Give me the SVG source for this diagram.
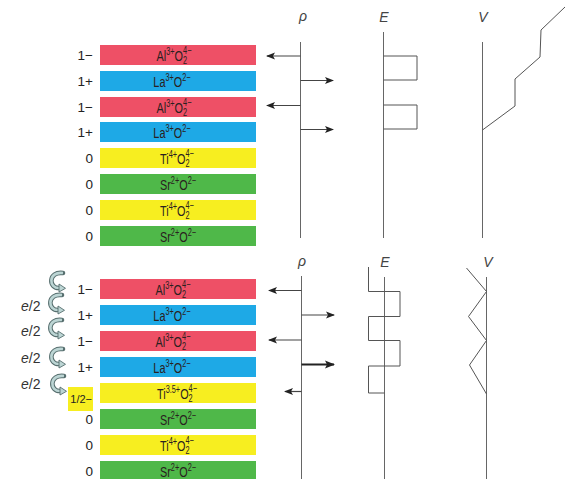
<svg xmlns="http://www.w3.org/2000/svg" xmlns:xlink="http://www.w3.org/1999/xlink" width="572" height="479" viewBox="0 0 572 479">
  <style>
    .red { fill: #ee5066; }
    .blue { fill: #1ea9e6; }
    .yel { fill: #f7ee20; }
    .grn { fill: #4fb849; }
    .lt { font-family: "Liberation Sans", Arial, sans-serif; font-size: 15.5px; fill: #2a2020; }
    .lt .s { font-size: 10.5px; }
    .q { font-family: "Liberation Sans", Arial, sans-serif; font-size: 13.5px; fill: #222; text-anchor: end; }
    .ax { font-family: "Liberation Sans", Arial, sans-serif; font-style: italic; font-size: 14px; fill: #444; text-anchor: middle; }
    .e2 { font-family: "Liberation Sans", Arial, sans-serif; font-size: 14px; fill: #333; }
    .axis { stroke: #666; stroke-width: 1; fill: none; }
    .plot { stroke: #555; stroke-width: 1; fill: none; }
    .arr { stroke: #444; stroke-width: 1.2; fill: none; marker-end: url(#head); }
    .arrb { stroke: #222; stroke-width: 2.2; fill: none; marker-end: url(#headb); }
  </style>
  <defs>
    <marker id="head" markerWidth="9" markerHeight="8" refX="8" refY="4" orient="auto" markerUnits="userSpaceOnUse">
      <path d="M0,0.5 L9,4 L0,7.5 L2,4 Z" fill="#222"/>
    </marker>
    <marker id="headb" markerWidth="10" markerHeight="9" refX="9" refY="4.5" orient="auto" markerUnits="userSpaceOnUse">
      <path d="M0,0.5 L10,4.5 L0,8.5 L2,4.5 Z" fill="#222"/>
    </marker>
    <!-- curved electron-transfer arrow, centred on (0,0) -->
    <g id="carrow">
      <path d="M6,-8 C-9,-10 -9,8 3,7" fill="none" stroke="#566e6e" stroke-width="4.6" stroke-linecap="round"/>
      <path d="M6,-8 C-9,-10 -9,8 3,7" fill="none" stroke="#bcd5d4" stroke-width="2.6"/>
      <path d="M2,3 L8.5,7.3 L2,11 Z" fill="#bcd5d4" stroke="#566e6e" stroke-width="0.9" stroke-linejoin="round"/>
    </g>
  </defs>

  <!-- ===== Upper stack: abrupt LaAlO3 / SrTiO3 interface ===== -->
  <g id="top-l1">
    <rect class="red" x="100" y="45" width="156" height="20"/>
    <text class="q" x="93" y="60">1−</text>
    <g transform="translate(174,60.5) scale(0.7,1)"><text class="lt" text-anchor="middle">Al<tspan class="s" dy="-5.5">3+</tspan><tspan dy="5.5">O</tspan><tspan class="s" dy="3">2</tspan><tspan class="s" dx="-5.8" dy="-9.5">4−</tspan></text></g>
  </g>
  <g id="top-l2">
    <rect class="blue" x="100" y="71" width="156" height="20"/>
    <text class="q" x="93" y="86">1+</text>
    <g transform="translate(172,86.5) scale(0.7,1)"><text class="lt" text-anchor="middle">La<tspan class="s" dy="-5.5">3+</tspan><tspan dy="5.5">O</tspan><tspan class="s" dy="-5.5">2−</tspan></text></g>
  </g>
  <g id="top-l3">
    <rect class="red" x="100" y="97" width="156" height="20"/>
    <text class="q" x="93" y="112">1−</text>
    <g transform="translate(174,112.5) scale(0.7,1)"><text class="lt" text-anchor="middle">Al<tspan class="s" dy="-5.5">3+</tspan><tspan dy="5.5">O</tspan><tspan class="s" dy="3">2</tspan><tspan class="s" dx="-5.8" dy="-9.5">4−</tspan></text></g>
  </g>
  <g id="top-l4">
    <rect class="blue" x="100" y="122" width="156" height="20"/>
    <text class="q" x="93" y="137">1+</text>
    <g transform="translate(172,137.5) scale(0.7,1)"><text class="lt" text-anchor="middle">La<tspan class="s" dy="-5.5">3+</tspan><tspan dy="5.5">O</tspan><tspan class="s" dy="-5.5">2−</tspan></text></g>
  </g>
  <g id="top-l5">
    <rect class="yel" x="100" y="148" width="156" height="20"/>
    <text class="q" x="93" y="163">0</text>
    <g transform="translate(177,163.5) scale(0.7,1)"><text class="lt" text-anchor="middle">Ti<tspan class="s" dy="-5.5">4+</tspan><tspan dy="5.5">O</tspan><tspan class="s" dy="3">2</tspan><tspan class="s" dx="-5.8" dy="-9.5">4−</tspan></text></g>
  </g>
  <g id="top-l6">
    <rect class="grn" x="100" y="174" width="156" height="20"/>
    <text class="q" x="93" y="189">0</text>
    <g transform="translate(178,189.5) scale(0.7,1)"><text class="lt" text-anchor="middle">Sr<tspan class="s" dy="-5.5">2+</tspan><tspan dy="5.5">O</tspan><tspan class="s" dy="-5.5">2−</tspan></text></g>
  </g>
  <g id="top-l7">
    <rect class="yel" x="100" y="200" width="156" height="20"/>
    <text class="q" x="93" y="215">0</text>
    <g transform="translate(177,215.5) scale(0.7,1)"><text class="lt" text-anchor="middle">Ti<tspan class="s" dy="-5.5">4+</tspan><tspan dy="5.5">O</tspan><tspan class="s" dy="3">2</tspan><tspan class="s" dx="-5.8" dy="-9.5">4−</tspan></text></g>
  </g>
  <g id="top-l8">
    <rect class="grn" x="100" y="226" width="156" height="20"/>
    <text class="q" x="93" y="241">0</text>
    <g transform="translate(178,241.5) scale(0.7,1)"><text class="lt" text-anchor="middle">Sr<tspan class="s" dy="-5.5">2+</tspan><tspan dy="5.5">O</tspan><tspan class="s" dy="-5.5">2−</tspan></text></g>
  </g>

  <!-- upper profiles: rho, E, V -->
  <g id="top-plots">
    <text class="ax" x="303" y="21">ρ</text>
    <line class="axis" x1="300.5" y1="42" x2="300.5" y2="238"/>
    <text class="ax" x="384" y="22">E</text>
    <line class="axis" x1="383.5" y1="32" x2="383.5" y2="238"/>
    <path class="plot" d="M383.5,56 H417 V80 H383.5 M383.5,105 H417 V129 H383.5"/>
    <text class="ax" x="483" y="22">V</text>
    <line class="axis" x1="482.5" y1="42" x2="482.5" y2="238"/>
    <path class="plot" d="M482.5,130 L515,106 L515,79 L540,57 L541,30 L565,7"/>
  </g>

  <!-- ===== Lower stack: reconstructed interface with e/2 transfer ===== -->
  <g id="bot-l1">
    <rect class="red" x="100" y="279" width="156" height="20"/>
    <text class="q" x="93" y="294">1−</text>
    <g transform="translate(173,294.5) scale(0.7,1)"><text class="lt" text-anchor="middle">Al<tspan class="s" dy="-5.5">3+</tspan><tspan dy="5.5">O</tspan><tspan class="s" dy="3">2</tspan><tspan class="s" dx="-5.8" dy="-9.5">4−</tspan></text></g>
  </g>
  <g id="bot-l2">
    <rect class="blue" x="100" y="305" width="156" height="20"/>
    <text class="q" x="93" y="320">1+</text>
    <g transform="translate(172,320.5) scale(0.7,1)"><text class="lt" text-anchor="middle">La<tspan class="s" dy="-5.5">3+</tspan><tspan dy="5.5">O</tspan><tspan class="s" dy="-5.5">2−</tspan></text></g>
  </g>
  <g id="bot-l3">
    <rect class="red" x="100" y="331" width="156" height="20"/>
    <text class="q" x="93" y="346">1−</text>
    <g transform="translate(173,346.5) scale(0.7,1)"><text class="lt" text-anchor="middle">Al<tspan class="s" dy="-5.5">3+</tspan><tspan dy="5.5">O</tspan><tspan class="s" dy="3">2</tspan><tspan class="s" dx="-5.8" dy="-9.5">4−</tspan></text></g>
  </g>
  <g id="bot-l4">
    <rect class="blue" x="100" y="357" width="156" height="20"/>
    <text class="q" x="93" y="372">1+</text>
    <g transform="translate(172,372.5) scale(0.7,1)"><text class="lt" text-anchor="middle">La<tspan class="s" dy="-5.5">3+</tspan><tspan dy="5.5">O</tspan><tspan class="s" dy="-5.5">2−</tspan></text></g>
  </g>
  <g id="bot-l5">
    <rect class="yel" x="100" y="383" width="156" height="20"/>
    <rect class="yel" x="68" y="387" width="25" height="24"/>
    <text class="q" x="92" y="403" style="font-size:11px">1/2−</text>
    <g transform="translate(177,398.5) scale(0.7,1)"><text class="lt" text-anchor="middle">Ti<tspan class="s" dy="-5.5">3.5+</tspan><tspan dy="5.5">O</tspan><tspan class="s" dy="3">2</tspan><tspan class="s" dx="-5.8" dy="-9.5">4−</tspan></text></g>
  </g>
  <g id="bot-l6">
    <rect class="grn" x="100" y="409" width="156" height="20"/>
    <text class="q" x="93" y="424">0</text>
    <g transform="translate(178,424.5) scale(0.7,1)"><text class="lt" text-anchor="middle">Sr<tspan class="s" dy="-5.5">2+</tspan><tspan dy="5.5">O</tspan><tspan class="s" dy="-5.5">2−</tspan></text></g>
  </g>
  <g id="bot-l7">
    <rect class="yel" x="100" y="435" width="156" height="20"/>
    <text class="q" x="93" y="450">0</text>
    <g transform="translate(177,450.5) scale(0.7,1)"><text class="lt" text-anchor="middle">Ti<tspan class="s" dy="-5.5">4+</tspan><tspan dy="5.5">O</tspan><tspan class="s" dy="3">2</tspan><tspan class="s" dx="-5.8" dy="-9.5">4−</tspan></text></g>
  </g>
  <g id="bot-l8">
    <rect class="grn" x="100" y="461" width="156" height="20"/>
    <text class="q" x="93" y="476">0</text>
    <g transform="translate(178,476.5) scale(0.7,1)"><text class="lt" text-anchor="middle">Sr<tspan class="s" dy="-5.5">2+</tspan><tspan dy="5.5">O</tspan><tspan class="s" dy="-5.5">2−</tspan></text></g>
  </g>

  <!-- electron transfer labels and curved arrows -->
  <g id="transfer">
    <use xlink:href="#carrow" x="57" y="281"/>
    <use xlink:href="#carrow" x="56" y="303"/>
    <use xlink:href="#carrow" x="56" y="328"/>
    <use xlink:href="#carrow" x="57" y="357"/>
    <use xlink:href="#carrow" x="58" y="384"/>
    <text class="e2" x="21" y="311"><tspan font-style="italic">e</tspan>/2</text>
    <text class="e2" x="21" y="336"><tspan font-style="italic">e</tspan>/2</text>
    <text class="e2" x="21" y="363"><tspan font-style="italic">e</tspan>/2</text>
    <text class="e2" x="21" y="389"><tspan font-style="italic">e</tspan>/2</text>
  </g>

  <!-- lower profiles: rho, E, V -->
  <g id="bot-plots">
    <text class="ax" x="302" y="266">ρ</text>
    <line class="axis" x1="301.5" y1="276" x2="301.5" y2="479"/>
    <text class="ax" x="385" y="267">E</text>
    <line class="axis" x1="384.5" y1="277" x2="384.5" y2="479"/>
    <path class="plot" d="M368.5,267 V291.5 H400 V316.5 H368.5 V340.5 H400 V366 H368.5 V393 H384.5"/>
    <text class="ax" x="488" y="267">V</text>
    <line class="axis" x1="486.5" y1="277" x2="486.5" y2="479"/>
    <path class="plot" d="M466.5,268 L486.5,291.5 L468.5,316.5 L486.5,340.5 L469.5,365 L486.5,394"/>
  </g>

  <!-- charge density arrows -->
  <g id="connectors">
    <line class="arr" x1="300.5" y1="56" x2="267" y2="56"/>
    <line class="arr" x1="300.5" y1="80.5" x2="333" y2="80.5"/>
    <line class="arr" x1="300.5" y1="105.5" x2="267" y2="105.5"/>
    <line class="arr" x1="300.5" y1="129.5" x2="333" y2="129.5"/>
    <line class="arr" x1="301.5" y1="290.5" x2="269" y2="290.5"/>
    <line class="arr" x1="301.5" y1="315" x2="334" y2="315"/>
    <line class="arr" x1="301.5" y1="340" x2="269" y2="340"/>
    <line class="arrb" x1="301.5" y1="364.5" x2="334" y2="364.5"/>
    <line class="arr" x1="301.5" y1="391.5" x2="285" y2="391.5"/>
  </g>
</svg>
